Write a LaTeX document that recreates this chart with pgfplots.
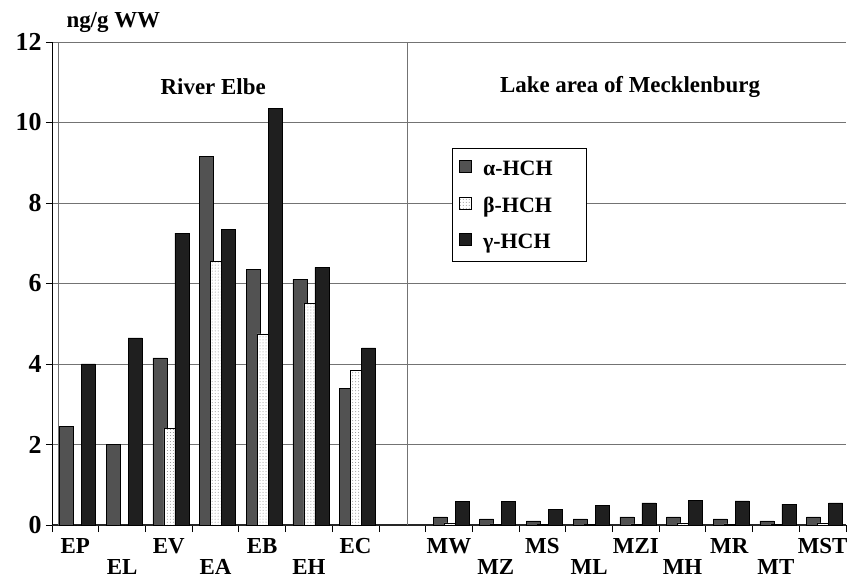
\documentclass[border=0pt]{standalone}
\usepackage{fontspec}
\setmainfont{Liberation Serif}
\usepackage{pgfplots}
\usepackage{pgfplotstable}
\pgfplotsset{compat=1.18}
\usetikzlibrary{patterns}

% HCH in fish, ng/g wet weight; category 7 is the empty gap
\pgfplotstableread{
x  a     b     g
0  2.45  0     4.00
1  2.00  0     4.65
2  4.15  2.40  7.25
3  9.15  6.55  7.35
4  6.35  4.75  10.35
5  6.10  5.50  6.40
6  3.40  3.85  4.40
8  0.20  0.05  0.58
9  0.15  0.03  0.58
10 0.10  0.02  0.38
11 0.15  0.02  0.48
12 0.20  0.03  0.55
13 0.20  0.05  0.62
14 0.15  0.03  0.60
15 0.10  0.02  0.52
16 0.20  0.05  0.55
}\hchdata

\newcommand{\up}[1]{\strut #1}
\newcommand{\lo}[1]{\strut\\\strut #1}

\begin{document}
\begin{tikzpicture}
\useasboundingbox (-52bp,-54bp) rectangle (796bp,525bp);
\begin{axis}[at={(0,0)},anchor=south west,
 width=794bp,height=483bp,scale only axis,
 xmin=-0.5,xmax=16.5,ymin=0,ymax=12,
 ybar,bar width=14bp,
 axis x line=bottom,axis y line=left,axis line style={-},
 x axis line style={line width=2.5bp,black!85},
 y axis line style={line width=0.8bp,black},
 ytick={0,2,...,12},ymajorgrids,
 major grid style={black!55,line width=0.6bp},
 tick align=outside,major tick length=6bp,
 tick style={black,line width=0.8bp},
 xtick={0,...,16},
 xticklabels={\up{EP},\lo{EL},\up{EV},\lo{EA},\up{EB},\lo{EH},\up{EC},{},
   \up{MW},\lo{MZ},\up{MS},\lo{ML},\up{MZI},\lo{MH},\up{MR},\lo{MT},\up{MST}},
 major x tick style={draw=none},
 minor xtick={-0.5,0.5,...,16.5},minor tick length=7bp,
 extra x ticks={-0.37,7.1},extra x tick labels={},
 extra x tick style={grid=major,major tick length=0pt},
 xticklabel style={font=\fontsize{23}{20}\selectfont\bfseries,align=center,anchor=north,inner sep=0pt,yshift=-7bp},
 yticklabel style={font=\fontsize{26}{26}\selectfont\bfseries,xshift=-1bp},
 /pgf/number format/assume math mode=true,
 legend style={at={(0.504,0.78)},anchor=north west,draw=black,line width=0.8bp,
   fill=white,font=\fontsize{22}{24}\selectfont\bfseries,
   row sep=16bp,inner xsep=6bp,inner ysep=10bp,cells={anchor=west}},
 legend image code/.code={\draw[#1,draw=black,line width=0.6bp] (0bp,-4bp) rectangle (12bp,8bp);\path (22bp,0bp);},
 clip=false]
\addplot[bar shift=-9bp,fill=black!68,draw=black,line width=0.5bp] table[x=x,y=a]{\hchdata};
\addplot[bar shift=2bp,fill=white,postaction={pattern=dots,pattern color=black!45},draw=black,line width=0.5bp] table[x=x,y=b]{\hchdata};
\addplot[bar shift=13bp,fill=black!88,draw=black,line width=0.5bp] table[x=x,y=g]{\hchdata};
\legend{α-HCH\rule{26bp}{0pt},β-HCH,γ-HCH}
\node[font=\fontsize{23}{24}\selectfont\bfseries] at (rel axis cs:0.203,0.907) {River Elbe};
\node[font=\fontsize{23}{24}\selectfont\bfseries] at (rel axis cs:0.728,0.907) {Lake area of Mecklenburg};
\node[font=\fontsize{23}{24}\selectfont\bfseries,anchor=base west] at ([xshift=11bp,yshift=14bp]rel axis cs:0,1) {ng/g WW};
\end{axis}
\end{tikzpicture}
\end{document}
